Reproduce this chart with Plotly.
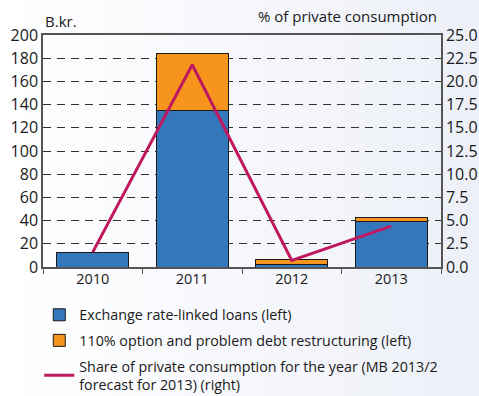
import base64
import plotly.graph_objects as go

years = ['2010', '2011', '2012', '2013']
fx_loans = [12.7, 134.5, 2.5, 39.5]
option_110 = [0, 49.5, 3.8, 2.8]
share_cons = [1.6, 21.8, 0.7, 4.4]

font = "Open Sans"
W, H = 479, 396
ml, mr, mt, mb = 43, 38, 35, 129
pw, ph = W - ml - mr, H - mt - mb

# soft white-to-blue background like the original
bg_svg = ("<svg xmlns='http://www.w3.org/2000/svg' width='479' height='396'>"
          "<defs><linearGradient id='g' x1='0' x2='1' y1='0' y2='0'>"
          "<stop offset='0' stop-color='#ffffff'/><stop offset='1' stop-color='#edf0f8'/>"
          "</linearGradient></defs><rect width='479' height='396' fill='url(#g)'/></svg>")
bg_uri = "data:image/svg+xml;base64," + base64.b64encode(bg_svg.encode()).decode()

fig = go.Figure()
fig.add_trace(go.Bar(x=years, y=fx_loans, name='Exchange rate-linked loans (left)',
                     marker=dict(color='#3577bb', line=dict(color='#1a1a1a', width=1)),
                     width=0.72, legendgroup='a'))
fig.add_trace(go.Bar(x=years, y=option_110, name='110% option and problem debt restructuring (left)',
                     marker=dict(color='#f7941d', line=dict(color='#1a1a1a', width=1)),
                     width=0.72, legendgroup='b'))
fig.add_trace(go.Scatter(x=years, y=share_cons, yaxis='y2', mode='lines',
                         name='Share of private consumption for the year (MB 2013/2<br>forecast for 2013) (right)',
                         line=dict(color='#c0185f', width=3), legendgroup='c'))

fig.update_layout(
    width=W, height=H,
    margin=dict(l=ml, r=mr, t=mt, b=mb, autoexpand=False),
    barmode='stack',
    paper_bgcolor='#f7f8fc',
    plot_bgcolor='rgba(0,0,0,0)',
    font=dict(family=font, size=15, color='#1a1a1a'),
    images=[dict(source=bg_uri, xref='paper', yref='paper', x=-ml / pw, y=1 + mt / ph,
                 sizex=W / pw, sizey=H / ph, xanchor='left', yanchor='top',
                 sizing='stretch', layer='below')],
    xaxis=dict(showline=True, linecolor='#555', linewidth=1.5, mirror=True,
               ticks='outside', tickson='boundaries', ticklen=5, tickcolor='#555',
               showgrid=False, tickfont=dict(size=14.5), automargin=False,
               ticklabelstandoff=-2),
    yaxis=dict(range=[0, 200], dtick=20, showline=True, linecolor='#555', linewidth=1.5,
               showgrid=True, gridcolor='#333', griddash='8px,6px', gridwidth=1.3,
               zeroline=False, ticks='', tickfont=dict(size=16), automargin=False),
    yaxis2=dict(range=[0, 25], dtick=2.5, tickformat='.1f', overlaying='y', side='right',
                showline=True, linecolor='#555', linewidth=1.5, showgrid=False,
                zeroline=False, ticks='', tickfont=dict(size=16), automargin=False),
    legend=dict(x=0.082, y=0.245, xref='container', yref='container',
                xanchor='left', yanchor='top', traceorder='grouped',
                bgcolor='rgba(0,0,0,0)', font=dict(size=14.3), itemwidth=30,
                tracegroupgap=4),
    annotations=[
        dict(text='B.kr.', xref='paper', yref='paper', x=0, y=1.01, xanchor='left',
             yanchor='bottom', showarrow=False, font=dict(size=15)),
        dict(text='% of private consumption', xref='paper', yref='paper', x=0.995, y=1.03,
             xanchor='right', yanchor='bottom', showarrow=False, font=dict(size=15)),
    ],
)

fig.write_html("out.html", config={'displayModeBar': False},
               post_script="document.body.style.margin='0';")
